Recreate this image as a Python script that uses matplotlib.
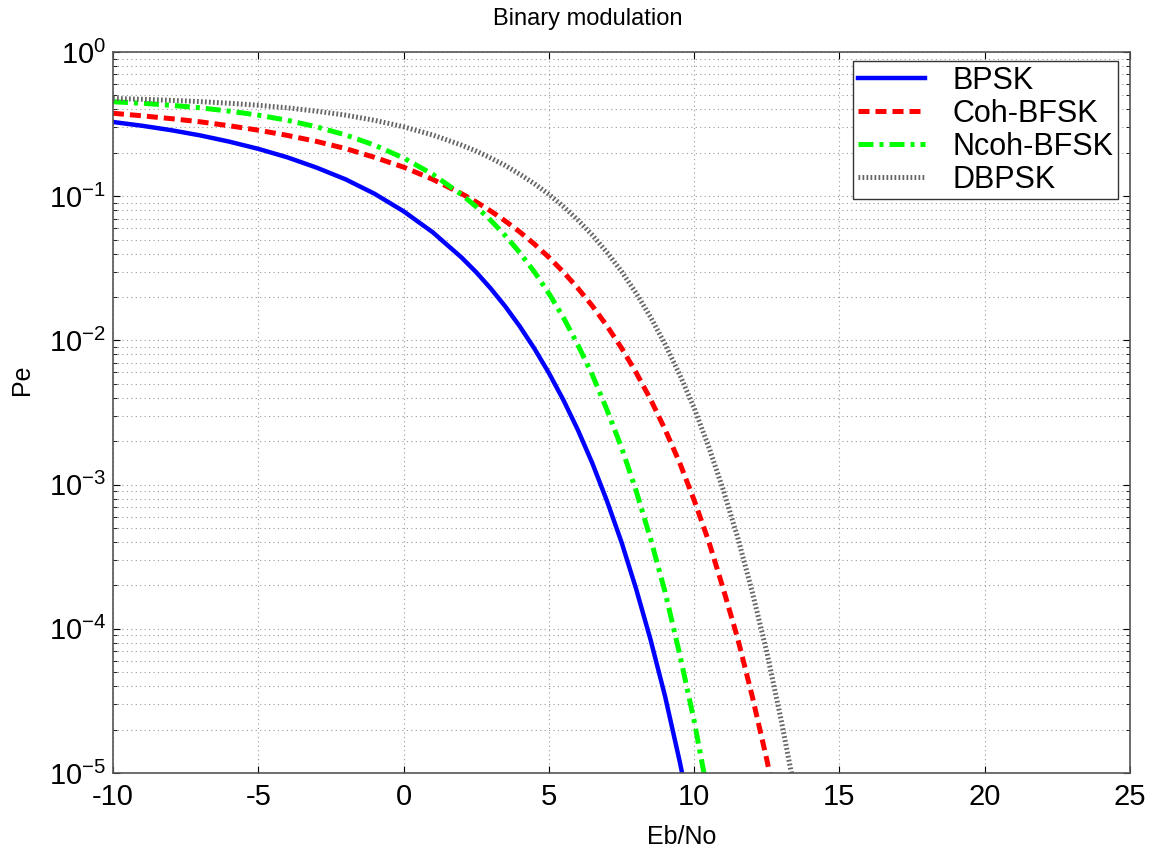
import matplotlib.pyplot as plt

plt.rcParams['font.family'] = ['Liberation Sans', 'DejaVu Sans']
plt.rcParams['mathtext.fontset'] = 'custom'
plt.rcParams['mathtext.rm'] = 'Liberation Sans'
plt.rcParams['mathtext.it'] = 'Liberation Sans'
plt.rcParams['axes.unicode_minus'] = False

# Eb/No in dB (finer steps where the curves bend)
ebno = [-10, -9, -8, -7, -6, -5, -4, -3, -2, -1, 0, 1, 2,
        2.5, 3, 3.5, 4, 4.5, 5, 5.5, 6, 6.5, 7, 7.5, 8, 8.5, 9, 9.5, 10,
        10.5, 11, 11.5, 12, 12.5, 13, 13.5, 14]

# error probabilities
pe_bpsk = [0.327, 0.308, 0.287, 0.264, 0.239, 0.213, 0.186, 0.158, 0.131, 0.104, 0.0786, 0.0563, 0.0375,
           0.0297, 0.0229, 0.0172, 0.0125, 0.00879, 0.00595, 0.00386, 0.00239, 0.0014, 7.7e-4,
           3.99e-4, 1.9e-4, 8.4e-5, 3.4e-5, 1.21e-5, 3.9e-6]
pe_coh = [0.376, 0.361, 0.345, 0.328, 0.308, 0.287, 0.264, 0.240, 0.214, 0.186, 0.159, 0.131, 0.104,
          0.0912, 0.0789, 0.0673, 0.0565, 0.0466, 0.0377, 0.0298, 0.0230, 0.0173, 0.0126, 0.00886,
          0.0060, 0.0039, 0.00241, 0.00142, 7.8e-4, 4.05e-4, 1.9e-4, 8.55e-5, 3.4e-5, 1.24e-5, 4.0e-6]
pe_ncoh = [0.452, 0.441, 0.427, 0.410, 0.389, 0.365, 0.336, 0.303, 0.266, 0.226, 0.184, 0.142, 0.1025,
           0.0845, 0.068, 0.0533, 0.0406, 0.0299, 0.0212, 0.0144, 0.0093, 0.00574, 0.0033, 0.00181,
           9.1e-4, 4.21e-4, 1.8e-4, 6.7e-5, 2.3e-5, 6.7e-6]
pe_dbpsk = [0.476, 0.470, 0.462, 0.453, 0.441, 0.427, 0.410, 0.389, 0.365, 0.336, 0.303, 0.266, 0.226,
            0.2055, 0.184, 0.1632, 0.142, 0.1222, 0.103, 0.0848, 0.0683, 0.0536, 0.0408, 0.0301,
            0.0213, 0.0145, 0.0094, 0.0058, 0.0034, 0.00183, 9.2e-4, 4.29e-4, 1.8e-4, 6.9e-5,
            2.3e-5, 6.9e-6]

fig = plt.figure(figsize=(11.57, 8.55), dpi=100)
ax = fig.add_axes([113/1157, 1-773/855, (1130-113)/1157, (773-52)/855])

ax.plot(ebno[:len(pe_bpsk)], pe_bpsk, color='#0000ff', lw=3.2, label='BPSK')
ax.plot(ebno[:len(pe_coh)], pe_coh, color='#ff0000', lw=3.6, ls=(0, (2.2, 1.2)), label='Coh-BFSK')
ax.plot(ebno[:len(pe_ncoh)], pe_ncoh, color='#00ff00', lw=3.6, ls=(0, (3, 1.2, 0.8, 1.2)), label='Ncoh-BFSK')
ax.plot(ebno[:len(pe_dbpsk)], pe_dbpsk, color='#666666', lw=3.6, ls=(0, (0.35, 0.45)),
        solid_capstyle='butt', dash_capstyle='butt', label='DBPSK')

ax.set_yscale('log')
ax.set_xlim(-10, 25)
ax.set_ylim(1e-5, 1)
ax.set_xticks([-10, -5, 0, 5, 10, 15, 20, 25])
ax.grid(True, which='major', axis='both', ls=(0, (1, 3)), color='#999999', lw=0.8)
ax.grid(True, which='minor', axis='y', ls=(0, (1, 3)), color='#999999', lw=0.8)
ax.tick_params(which='both', direction='in', top=True, right=True, labelsize=21, length=5)
ax.tick_params(axis='x', pad=7)
ax.tick_params(axis='y', pad=5)
ax.tick_params(which='minor', length=3)
for s in ax.spines.values():
    s.set_color('#555555')
    s.set_linewidth(1.2)

fig.text(588/1157, 1-19/855, 'Binary modulation', fontsize=17, ha='center', va='center')
fig.text(682/1157, 1-837/855, 'Eb/No', fontsize=18, ha='center', va='center')
fig.text(22/1157, 1-380/855, 'Pe', fontsize=18, ha='center', va='center', rotation=90)

leg = ax.legend(loc='upper right', fontsize=22, fancybox=False, framealpha=1,
                edgecolor='#333333', handlelength=2.2, handletextpad=0.9, borderpad=0.15,
                labelspacing=0.1, borderaxespad=0, bbox_to_anchor=(0.9882, 0.9875))
leg.get_frame().set_linewidth(1.0)

fig.savefig('out.png', dpi=100)
